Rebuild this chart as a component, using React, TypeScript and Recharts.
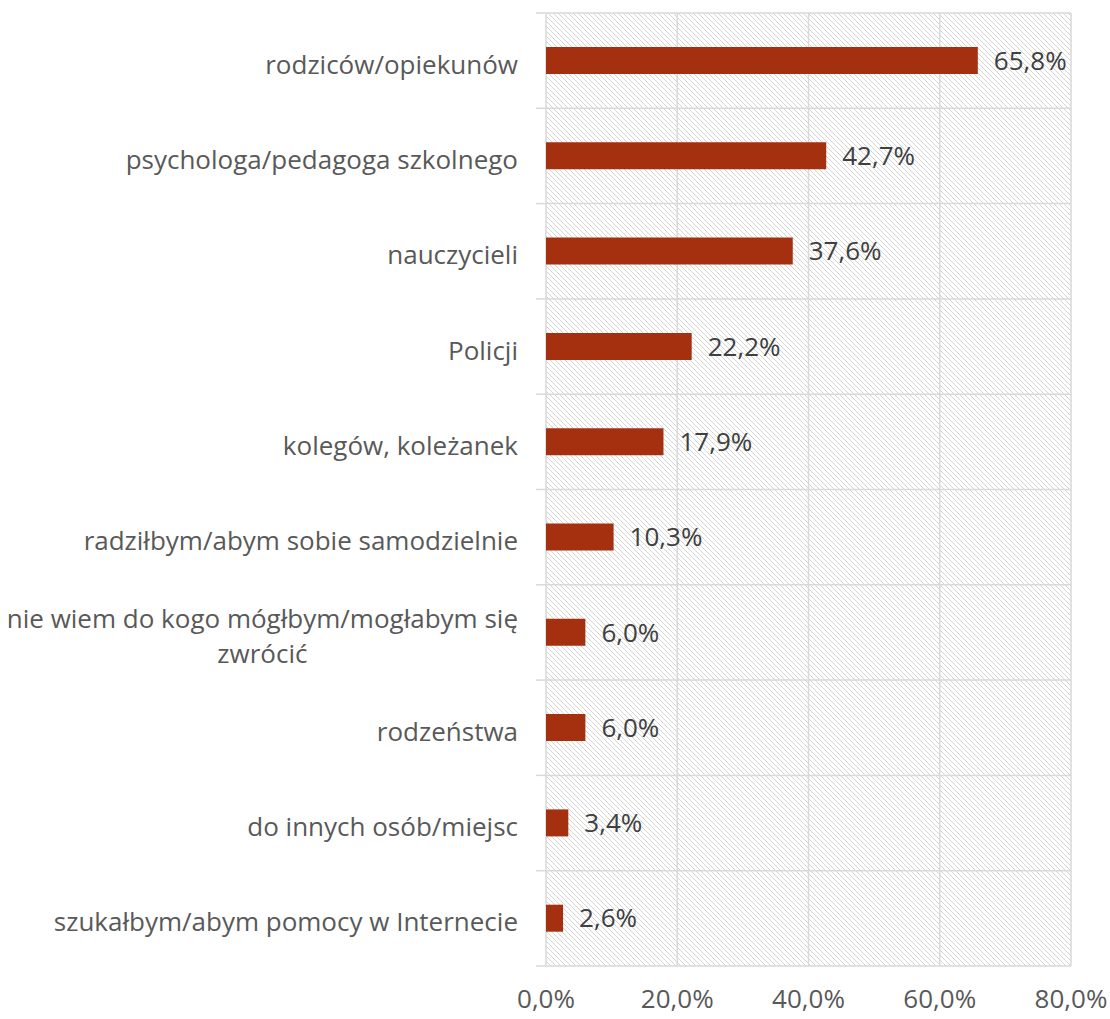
import { Bar, BarChart, CartesianGrid, LabelList, XAxis, YAxis } from "recharts";

const categories = [
  "rodziców/opiekunów",
  "psychologa/pedagoga szkolnego",
  "nauczycieli",
  "Policji",
  "kolegów, koleżanek",
  "radziłbym/abym sobie samodzielnie",
  "nie wiem do kogo mógłbym/mogłabym się zwrócić",
  "rodzeństwa",
  "do innych osób/miejsc",
  "szukałbym/abym pomocy w Internecie",
];
const values = [65.8, 42.7, 37.6, 22.2, 17.9, 10.3, 6.0, 6.0, 3.4, 2.6];
const xTicks = [0, 20, 40, 60, 80];

const data = categories.map((label, i) => ({ label, value: values[i] }));

const WIDTH = 1110;
const HEIGHT = 1019;
const X_AXIS_H = 53;
const MARGIN = { top: 13, right: 39, bottom: 0, left: 0 };
const AXIS_X = 546;
const PLOT_H = HEIGHT - MARGIN.top - X_AXIS_H;
const BAND = PLOT_H / categories.length;

const FONT = "'Open Sans', sans-serif";
const FONT_SIZE = 26;
const LINE_H = 35;
const LABEL_RIGHT = AXIS_X - 28;
const WRAP_WIDTH = 525;

const barColor = "#A5300F";
const gridColor = "#D9D9D9";
const hatchColor = "#D4D4D4";
const axisText = "#595959";
const valueText = "#404040";

const pct = (v: number) => v.toFixed(1).replace(".", ",") + "%";

let ctx: CanvasRenderingContext2D | null = null;
function measure(t: string) {
  if (!ctx) ctx = document.createElement("canvas").getContext("2d");
  ctx!.font = `${FONT_SIZE}px ${FONT}`;
  return ctx!.measureText(t).width;
}

function wrap(text: string) {
  const words = text.split(" ");
  const lines: string[] = [];
  let cur = "";
  for (const w of words) {
    const next = cur ? cur + " " + w : w;
    if (cur && measure(next) > WRAP_WIDTH) {
      lines.push(cur);
      cur = w;
    } else {
      cur = next;
    }
  }
  if (cur) lines.push(cur);
  return lines;
}

function CategoryTick(props: any) {
  const { y, payload, index } = props;
  const lines = wrap(String(payload.value));
  const widest = Math.max(...lines.map(measure));
  const cx = LABEL_RIGHT - widest / 2;
  const base = y + 13 - ((lines.length - 1) * LINE_H) / 2;
  return (
    <g>
      <line x1={AXIS_X - 10} x2={AXIS_X} y1={y - BAND / 2} y2={y - BAND / 2} stroke={gridColor} strokeWidth={1.5} />
      {index === categories.length - 1 && (
        <line x1={AXIS_X - 10} x2={AXIS_X} y1={y + BAND / 2} y2={y + BAND / 2} stroke={gridColor} strokeWidth={1.5} />
      )}
      <text textAnchor="middle" fontSize={FONT_SIZE} fontFamily={FONT} fill={axisText}>
        {lines.map((l, i) => (
          <tspan key={i} x={cx} y={base + i * LINE_H}>
            {l}
          </tspan>
        ))}
      </text>
    </g>
  );
}

export default function App() {
  return (
    <div style={{ position: "absolute", left: 0, top: 0, width: WIDTH, height: HEIGHT, background: "#fff" }}>
      <svg width={0} height={0} style={{ position: "absolute" }}>
        <defs>
          <pattern id="hatch" width={5} height={5} patternUnits="userSpaceOnUse">
            <rect width={5} height={5} fill="#fff" />
            <path d="M0,0 L5,5 M-1,4 L1,6 M4,-1 L6,1" stroke={hatchColor} strokeWidth={1} />
          </pattern>
        </defs>
      </svg>
      <BarChart width={WIDTH} height={HEIGHT} data={data} layout="vertical" margin={MARGIN}>
        <CartesianGrid
          fill="url(#hatch)"
          fillOpacity={1}
          stroke={gridColor}
          strokeWidth={1.5}
          horizontalCoordinatesGenerator={() =>
            Array.from({ length: categories.length + 1 }, (_, i) => MARGIN.top + i * BAND)
          }
        />
        <XAxis
          type="number"
          domain={[0, 80]}
          ticks={xTicks}
          tickFormatter={pct}
          axisLine={false}
          tickLine={false}
          tickSize={0}
          tickMargin={24}
          height={X_AXIS_H}
          tick={{ fill: axisText, fontSize: FONT_SIZE, fontFamily: FONT }}
        />
        <YAxis
          type="category"
          dataKey="label"
          width={AXIS_X}
          axisLine={false}
          tickLine={false}
          interval={0}
          tick={<CategoryTick />}
        />
        <Bar dataKey="value" fill={barColor} barSize={27} isAnimationActive={false}>
          <LabelList
            dataKey="value"
            position="right"
            offset={16}
            formatter={(v: any) => pct(Number(v))}
            fill={valueText}
            fontSize={FONT_SIZE}
            fontFamily={FONT}
          />
        </Bar>
      </BarChart>
    </div>
  );
}
